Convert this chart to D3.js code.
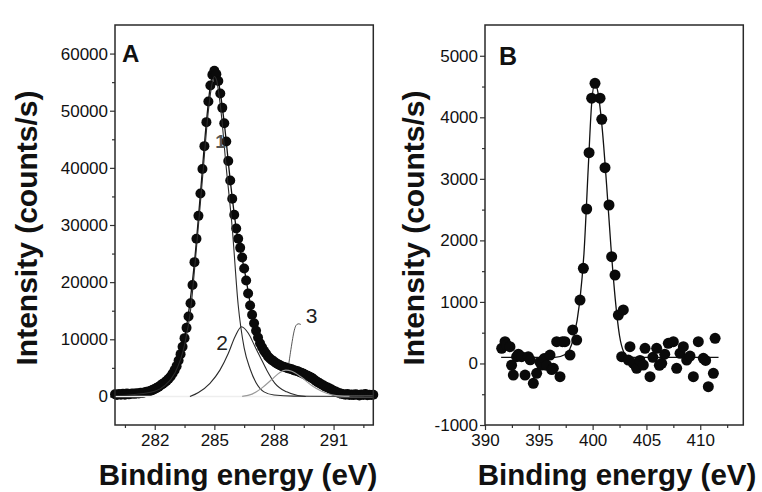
<!DOCTYPE html>
<html>
<head>
<meta charset="utf-8">
<script src="https://cdn.jsdelivr.net/npm/d3@7.9.0/dist/d3.min.js"></script>
<style>
  body { margin: 0; background: #fff; }
  svg { display: block; font-family: "Liberation Sans", Arial, sans-serif; }
</style>
</head>
<body>
<svg id="chart" width="762" height="492"></svg>
<script>
// Panel A: C1s spectrum, measured points (eV, counts/s)
const c1sEnergy = [
  280.0, 280.1, 280.2, 280.3, 280.4, 280.5, 280.6, 280.7, 280.8, 280.9,
  281.0, 281.1, 281.2, 281.3, 281.4, 281.5, 281.6, 281.7, 281.8, 281.9,
  282.0, 282.1, 282.2, 282.3, 282.4, 282.5, 282.6, 282.7, 282.8, 282.9,
  283.0, 283.1, 283.2, 283.3, 283.4, 283.5, 283.6, 283.7, 283.8, 283.9,
  284.0, 284.1, 284.2, 284.3, 284.4, 284.5, 284.6, 284.7, 284.8, 284.9,
  285.0, 285.1, 285.2, 285.3, 285.4, 285.5, 285.6, 285.7, 285.8, 285.9,
  286.0, 286.1, 286.2, 286.3, 286.4, 286.5, 286.6, 286.7, 286.8, 286.9,
  287.0, 287.1, 287.2, 287.3, 287.4, 287.5, 287.6, 287.7, 287.8, 287.9,
  288.0, 288.1, 288.2, 288.3, 288.4, 288.5, 288.6, 288.7, 288.8, 288.9,
  289.0, 289.1, 289.2, 289.3, 289.4, 289.5, 289.6, 289.7, 289.8, 289.9,
  290.0, 290.1, 290.2, 290.3, 290.4, 290.5, 290.6, 290.7, 290.8, 290.9,
  291.0, 291.1, 291.2, 291.3, 291.4, 291.5, 291.6, 291.7, 291.8, 291.9,
  292.0, 292.1, 292.2, 292.3, 292.4, 292.5, 292.6, 292.7, 292.8, 292.9,
  293.0
];
const c1sCounts = [
  380, 250, 420, 300, 450, 280, 500, 360, 470, 520,
  450, 560, 520, 640, 600, 720, 800, 880, 1000, 1150,
  1300, 1500, 1700, 1950, 2200, 2450, 2750, 3100, 3500, 4000,
  4600, 5300, 6300, 7400, 8700, 10200, 12000, 14000, 16300, 19500,
  23500, 27600, 31600, 35500, 39800, 43800, 48000, 51600, 54400, 56300,
  57000, 56400, 55200, 53000, 50500, 47800, 44600, 41200, 37800, 34600,
  31800, 29400, 27600, 26000, 24300, 22400, 20300, 18000, 15900, 14300,
  12800, 11500, 10300, 9300, 8600, 8000, 7500, 7000, 6650, 6350,
  6100, 5850, 5650, 5450, 5300, 5150, 5050, 4950, 4850, 4750,
  4600, 4500, 4400, 4250, 4100, 3950, 3750, 3600, 3450, 3250,
  3000, 2750, 2500, 2300, 2100, 1900, 1700, 1550, 1400, 1200,
  1000, 850, 700, 550, 450, 380, 300, 420, 260, 350,
  230, 400, 300, 180, 350, 260, 420, 200, 310, 250,
  300
];

// Panel A fitted curves [eV, counts/s]
const c1sEnvelope = [
  [280, 300], [281, 500], [282, 1300], [282.5, 2450], [283, 4600], [283.5, 10200],
  [284, 23500], [284.3, 35500], [284.6, 48000], [284.8, 54400], [285, 57000],
  [285.2, 55200], [285.5, 47800], [285.8, 37800], [286.1, 29400], [286.5, 22400],
  [287, 12800], [287.5, 8000], [288, 6100], [288.5, 5150], [289, 4600],
  [289.5, 3950], [290, 3000], [290.5, 1900], [291, 1000], [291.5, 350],
  [292, 250], [293, 250]
];
const c1sPeak1 = [
  [280, 150], [281, 350], [282, 900], [282.5, 1900], [283, 4000], [283.5, 9000],
  [283.8, 15000], [284.1, 26000], [284.4, 38000], [284.7, 50000], [284.9, 55000],
  [285, 56000], [285.1, 55500], [285.3, 51000], [285.6, 40000], [285.9, 29500],
  [286.2, 16000], [286.5, 8500], [286.8, 4800], [287.1, 2400], [287.5, 800],
  [288, 250], [289, 50], [293, 0]
];
const c1sPeak2 = [
  [283.77, 0], [284.2, 700], [284.78, 2300], [285.28, 4600], [285.7, 7500],
  [286.04, 10450], [286.37, 12200], [286.71, 11050], [287.05, 8700], [287.3, 6950],
  [287.64, 4600], [288.05, 2300], [288.64, 800], [289.2, 150], [289.6, 0]
];
const c1sPeak3 = [
  [286.4, 0], [286.9, 400], [287.4, 1500], [287.9, 3000], [288.3, 4200],
  [288.6, 4600], [288.9, 4400], [289.4, 3300], [289.9, 1900], [290.4, 900],
  [290.9, 300], [291.4, 50], [291.8, 0]
];
const c1sBaseline = [[280, 0], [293, 0]];

// Panel B: N1s spectrum, measured points
const n1sEnergy = [
  391.55, 391.86, 392.0, 392.32, 392.47, 392.63, 392.94, 393.1, 393.4, 393.72,
  394.02, 394.2, 394.49, 394.8, 395.1, 395.27, 395.5, 395.73, 396.04, 396.2,
  396.35, 396.66, 396.97, 397.2, 397.43, 397.9, 398.15, 398.52, 398.83, 399.14,
  399.45, 399.67, 399.91, 400.22, 400.69, 400.85, 401.15, 401.52, 401.77, 402.08,
  402.39, 402.7, 402.85, 403.32, 403.47, 403.8, 404.09, 404.4, 404.71, 404.87,
  405.33, 405.6, 405.95, 406.2, 406.42, 406.7, 407.03, 407.5, 407.81, 408.12,
  408.43, 408.74, 409.05, 409.36, 409.82, 410.29, 410.5, 410.75, 411.22, 411.38
];
const n1sCounts = [
  246, 354, 300, 272, -29, -188, 110, 150, 110, -188,
  110, 60, -322, -160, 20, -25, 80, -29, 137, -100,
  -79, 354, -215, 354, 354, 137, 544, 381, 1031, 1546,
  2510, 3425, 4310, 4553, 4310, 3967, 3181, 2575, 1735, 1437,
  787, 110, 869, 56, 272, 0, -79, 50, -25, 246,
  -215, 100, 246, -30, 3, 150, 327, 354, -79, 165,
  272, 56, 120, -215, 354, 83, 50, -378, -160, 408
];
const n1sFit = [
  [391.5, 100], [396.5, 100], [397.5, 150], [398.2, 400], [398.8, 1000],
  [399.2, 1800], [399.6, 3200], [399.9, 4200], [400.2, 4550], [400.5, 4400],
  [400.9, 3800], [401.3, 2900], [401.7, 1900], [402.1, 1050], [402.5, 450],
  [402.9, 180], [403.3, 100], [411.7, 100]
];

// Axis ticks
const c1sMajorX = [282, 285, 288, 291];
const c1sMinorX = [280.5, 283.5, 286.5, 289.5, 292.5];
const c1sMajorY = [0, 10000, 20000, 30000, 40000, 50000, 60000];
const c1sMinorY = [5000, 15000, 25000, 35000, 45000, 55000];
const n1sMajorX = [390, 395, 400, 405, 410];
const n1sMinorX = [392.5, 397.5, 402.5, 407.5, 412.5];
const n1sMajorY = [-1000, 0, 1000, 2000, 3000, 4000, 5000];
const n1sMinorY = [-500, 500, 1500, 2500, 3500, 4500];

const svg = d3.select('#chart');
const FONT = '"Liberation Sans", Arial, sans-serif';
const INK = '#111';

function drawPanel(p) {
  const { x, y } = p;
  const [x0, x1] = x.range();
  const [yb, yt] = y.range();
  const g = svg.append('g');

  // axes (ticks pointing outward, no domain line - frame drawn below)
  const styleAxis = (sel, size) => {
    sel.select('.domain').remove();
    sel.selectAll('line').attr('stroke', '#333').attr('stroke-width', 1.2);
    sel.attr('font-family', FONT).attr('font-size', size);
    sel.selectAll('text').attr('fill', INK);
  };
  g.append('g').attr('transform', `translate(0,${yb})`)
    .call(d3.axisBottom(x).tickValues(p.majorX).tickSize(5).tickPadding(4).tickFormat(d => String(d)))
    .call(s => styleAxis(s, 17));
  g.append('g').attr('transform', `translate(0,${yb})`)
    .call(d3.axisBottom(x).tickValues(p.minorX).tickSize(3).tickFormat(''))
    .call(s => styleAxis(s, 17));
  g.append('g').attr('transform', `translate(${x0},0)`)
    .call(d3.axisLeft(y).tickValues(p.majorY).tickSize(5).tickPadding(2).tickFormat(d => String(d)))
    .call(s => styleAxis(s, 17));
  g.append('g').attr('transform', `translate(${x0},0)`)
    .call(d3.axisLeft(y).tickValues(p.minorY).tickSize(3).tickFormat(''))
    .call(s => styleAxis(s, 17));

  const line = d3.line().x(d => x(d[0])).y(d => y(d[1])).curve(d3.curveMonotoneX);

  // fitted envelope under the points
  g.append('path').datum(p.fit).attr('d', line)
    .attr('fill', 'none').attr('stroke', '#111').attr('stroke-width', 1.3);

  // measured points
  g.append('g').selectAll('circle')
    .data(p.energy.map((e, i) => [e, p.counts[i]]))
    .join('circle')
    .attr('cx', d => x(d[0]))
    .attr('cy', d => y(d[1]))
    .attr('r', p.r)
    .attr('fill', '#0a0a0a');

  // light baseline and component peaks on top
  (p.light || []).forEach(c => {
    g.append('path').datum(c.data).attr('d', line)
      .attr('fill', 'none').attr('stroke', c.color).attr('stroke-width', c.width);
  });

  // frame
  g.append('rect')
    .attr('x', x0).attr('y', yt)
    .attr('width', x1 - x0).attr('height', yb - yt)
    .attr('fill', 'none').attr('stroke', '#2a2a2a').attr('stroke-width', 1.5);

  // panel letter
  g.append('text').attr('x', p.letterPos[0]).attr('y', p.letterPos[1])
    .attr('font-family', FONT).attr('font-weight', 'bold')
    .attr('font-size', p.letterSize).attr('fill', INK).text(p.letter);

  // axis titles
  g.append('text')
    .attr('x', p.xTitle[0]).attr('y', p.xTitle[1])
    .attr('text-anchor', 'middle')
    .attr('font-family', FONT).attr('font-weight', 'bold')
    .attr('font-size', 29.5).attr('fill', INK)
    .text('Binding energy (eV)');
  g.append('text')
    .attr('transform', `translate(${p.yTitle[0]},${p.yTitle[1]}) rotate(-90)`)
    .attr('text-anchor', 'middle')
    .attr('font-family', FONT).attr('font-weight', 'bold')
    .attr('font-size', 30).attr('fill', INK)
    .text('Intensity (counts/s)');

  return g;
}

const xA = d3.scaleLinear().domain([280, 293]).range([115, 373.3]);
const yA = d3.scaleLinear().domain([-5000, 65000]).range([425, 25]);
const xB = d3.scaleLinear().domain([390, 414]).range([485, 743.3]);
const yB = d3.scaleLinear().domain([-1000, 5500]).range([425, 25]);

const gA = drawPanel({
  x: xA, y: yA,
  majorX: c1sMajorX, minorX: c1sMinorX, majorY: c1sMajorY, minorY: c1sMinorY,
  energy: c1sEnergy, counts: c1sCounts, r: 5,
  fit: c1sEnvelope,
  light: [
    { data: c1sBaseline, color: '#eeeeee', width: 1.6 },
    { data: c1sPeak1, color: '#2b2b2b', width: 1.1 },
    { data: c1sPeak2, color: '#2b2b2b', width: 1.1 },
    { data: c1sPeak3, color: '#9a9a9a', width: 1.2 }
  ],
  letter: 'A', letterSize: 24, letterPos: [122, 62],
  xTitle: [238, 485], yTitle: [37, 228]
});

const gB = drawPanel({
  x: xB, y: yB,
  majorX: n1sMajorX, minorX: n1sMinorX, majorY: n1sMajorY, minorY: n1sMinorY,
  energy: n1sEnergy, counts: n1sCounts, r: 5.5,
  fit: n1sFit,
  letter: 'B', letterSize: 25, letterPos: [499, 65],
  xTitle: [617, 485], yTitle: [424, 228]
});

// component labels for panel A
const labelStyle = t => t.attr('font-family', FONT).attr('fill', '#222');
gA.append('text').attr('x', xA(285.05)).attr('y', yA(43500))
  .attr('font-size', 19).attr('font-weight', 'bold').attr('fill', '#555')
  .attr('font-family', FONT).text('1');
gA.append('text').attr('x', xA(285.1)).attr('y', yA(8200))
  .attr('font-size', 21).call(labelStyle).text('2');
gA.append('text').attr('x', xA(289.6)).attr('y', yA(12850))
  .attr('font-size', 21).call(labelStyle).text('3');
// leader line for label 3
gA.append('path')
  .datum([[289.35, 12600], [289.1, 12900], [288.95, 10500], [288.75, 5800]])
  .attr('d', d3.line().x(d => xA(d[0])).y(d => yA(d[1])).curve(d3.curveBasis))
  .attr('fill', 'none').attr('stroke', '#444').attr('stroke-width', 0.9);
</script>
</body>
</html>
